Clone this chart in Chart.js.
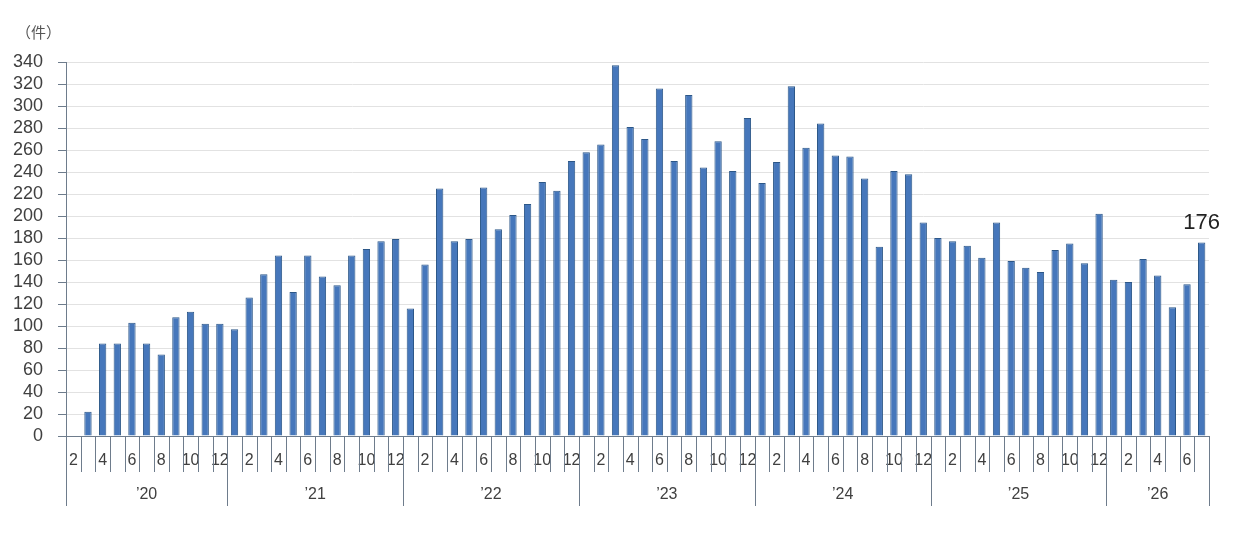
<!DOCTYPE html>
<html>
<head>
<meta charset="utf-8">
<script src="https://cdn.jsdelivr.net/npm/chart.js@4/dist/chart.umd.min.js"></script>
<style>
  body { margin: 0; background: #fff; }
  #wrap { width: 1240px; height: 554px; position: relative; }
</style>
</head>
<body>
<div id="wrap"><canvas id="chart"></canvas></div>
<script>
// monthly counts, one array per year ('20 starts in Feb, '26 ends in Jul)
const yearLabels = ['’20', '’21', '’22', '’23', '’24', '’25', '’26'];
const firstMonth = 2;
const y2020 = [null, 22, 84, 84, 103, 84, 74, 108, 113, 102, 102];
const y2021 = [97, 126, 147, 164, 131, 164, 145, 137, 164, 170, 177, 179];
const y2022 = [116, 156, 225, 177, 179, 226, 188, 201, 211, 231, 223, 250];
const y2023 = [258, 265, 337, 281, 270, 316, 250, 310, 244, 268, 241, 289];
const y2024 = [230, 249, 318, 262, 284, 255, 254, 234, 172, 241, 238, 194];
const y2025 = [180, 177, 173, 162, 194, 159, 153, 149, 169, 175, 157, 202];
const y2026 = [142, 140, 161, 146, 117, 138, 176];
const shownMonths = [2, 4, 6, 8, 10, 12];
const yTicks = { min: 0, max: 340, step: 20 };

const yearData = [y2020, y2021, y2022, y2023, y2024, y2025, y2026];
const months = [];
const values = [];
const yearStarts = [];
yearData.forEach((arr, yi) => {
  yearStarts.push(values.length);
  const start = yi === 0 ? firstMonth : 1;
  arr.forEach((v, i) => { months.push(start + i); values.push(v); });
});
yearStarts.push(values.length);

const axisColor = '#6e7c8c';
const textColor = '#404040';

const xAxisDecor = {
  id: 'xAxisDecor',
  afterDraw(chart) {
    const ctx = chart.ctx;
    const x = chart.scales.x;
    const base = chart.chartArea.bottom;
    ctx.save();
    ctx.strokeStyle = axisColor;
    ctx.lineWidth = 1;
    for (let i = 0; i <= months.length; i++) {
      const px = Math.round(x.getPixelForValue(i - 0.5)) + 0.5;
      const long = yearStarts.includes(i);
      ctx.beginPath();
      ctx.moveTo(px, base);
      ctx.lineTo(px, long ? 506 : 472);
      ctx.stroke();
    }
    ctx.fillStyle = textColor;
    ctx.font = '16px "Liberation Sans", Arial, sans-serif';
    ctx.textAlign = 'center';
    ctx.textBaseline = 'middle';
    for (let k = 0; k < yearLabels.length; k++) {
      const a = x.getPixelForValue(yearStarts[k] - 0.5);
      const b = x.getPixelForValue(yearStarts[k + 1] - 0.5);
      ctx.fillText(yearLabels[k], (a + b) / 2, 495);
    }
    // unit label
    ctx.fillStyle = '#555';
    ctx.font = '15px "Noto Sans CJK JP", sans-serif';
    ctx.textAlign = 'left';
    ctx.fillText('（件）', 16, 32);
    // value label on the last bar
    const meta = chart.getDatasetMeta(0);
    const last = meta.data[meta.data.length - 1];
    ctx.fillStyle = '#222';
    ctx.font = '22px "Liberation Sans", Arial, sans-serif';
    ctx.textAlign = 'center';
    ctx.textBaseline = 'bottom';
    ctx.fillText(String(values[values.length - 1]), last.x, last.y - 8);
    ctx.restore();
  }
};

new Chart(document.getElementById('chart'), {
  type: 'bar',
  data: {
    labels: months,
    datasets: [{
      data: values,
      backgroundColor: '#4677bb',
      borderColor: '#2c5788',
      borderWidth: 1,
      barPercentage: 0.5,
      categoryPercentage: 1
    }]
  },
  options: {
    responsive: true,
    maintainAspectRatio: false,
    animation: false,
    layout: { padding: { left: 0, right: 31, top: 62, bottom: 0 } },
    plugins: { legend: { display: false }, tooltip: { enabled: false } },
    scales: {
      x: {
        offset: true,
        grid: { display: false, drawTicks: false },
        border: { display: true, color: axisColor, width: 1 },
        ticks: {
          autoSkip: false,
          maxRotation: 0,
          padding: 15,
          color: textColor,
          font: { size: 16, family: '"Liberation Sans", Arial, sans-serif' },
          callback: (v, i) => shownMonths.includes(months[i]) ? String(months[i]) : ''
        },
        afterFit(scale) { scale.height = 118; }
      },
      y: {
        min: yTicks.min,
        max: yTicks.max,
        grid: { color: '#e2e2e2', tickColor: axisColor, tickLength: 8 },
        border: { display: true, color: axisColor, width: 1 },
        ticks: {
          stepSize: yTicks.step,
          autoSkip: false,
          padding: 15,
          color: textColor,
          font: { size: 18, family: '"Liberation Sans", Arial, sans-serif' }
        },
        afterFit(scale) { scale.width = 66; }
      }
    }
  },
  plugins: [xAxisDecor]
});
</script>
</body>
</html>
